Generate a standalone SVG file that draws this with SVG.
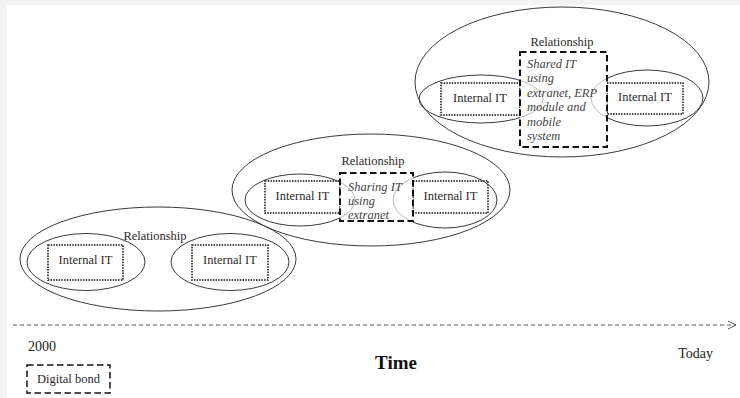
<svg xmlns="http://www.w3.org/2000/svg" width="740" height="398" viewBox="0 0 740 398">
  <style>
    .txt { font-family: "Liberation Serif", "Times New Roman", serif; font-size: 12.5px; fill: #2a2a2a; }
    .it { font-family: "Liberation Serif", "Times New Roman", serif; font-size: 12.5px; font-style: italic; fill: #444; }
    .axis { font-family: "Liberation Serif", "Times New Roman", serif; font-size: 14px; fill: #222; }
    .outer { fill: none; stroke: #3a3a3a; stroke-width: 1; }
    .inner { fill: none; stroke: #3a3a3a; stroke-width: 1; }
    .dotted { fill: none; stroke: #111; stroke-width: 1.5; stroke-dasharray: 1.5 1.2; }
    .dashed { fill: #fff; fill-opacity: 0.65; stroke: #111; stroke-width: 2; stroke-dasharray: 6.5 3.5; }
    .timeline { fill: none; stroke: #555; stroke-width: 1; stroke-dasharray: 4 3; }
  </style>
  <defs>
    <marker id="chevron" viewBox="0 0 10 10" refX="9" refY="5" markerWidth="10" markerHeight="10" markerUnits="userSpaceOnUse" orient="auto">
      <path d="M1,1 L9,5 L1,9" fill="none" stroke="#555" stroke-width="1"/>
    </marker>
  </defs>

  <!-- page background with thin grey frame at top and left -->
  <rect x="0" y="0" width="740" height="398" fill="#f3f3f3"/>
  <rect x="7" y="5" width="733" height="393" fill="#ffffff"/>

  <!-- stage 1 (2000): two firms with internal IT -->
  <g id="stage1">
    <ellipse class="outer" cx="158" cy="259" rx="138" ry="52"/>
    <ellipse class="inner" cx="86" cy="262" rx="59" ry="28.5"/>
    <ellipse class="inner" cx="230" cy="262" rx="59" ry="28.5"/>
    <text class="txt" x="155" y="240" text-anchor="middle">Relationship</text>
  </g>
  <g id="s1-it-left">
    <rect class="dotted" x="48" y="245" width="75" height="35"/>
    <text class="txt" x="85.5" y="264" text-anchor="middle">Internal IT</text>
  </g>
  <g id="s1-it-right">
    <rect class="dotted" x="192" y="245" width="76" height="35"/>
    <text class="txt" x="230" y="264" text-anchor="middle">Internal IT</text>
  </g>

  <!-- stage 2: IT shared over an extranet -->
  <g id="stage2">
    <ellipse class="outer" cx="371" cy="190" rx="139" ry="56"/>
    <ellipse class="inner" cx="300" cy="200" rx="55" ry="26"/>
    <ellipse class="inner" cx="445" cy="200" rx="52" ry="28"/>
    <text class="txt" x="373" y="165" text-anchor="middle">Relationship</text>
  </g>
  <g id="s2-it-left">
    <rect class="dotted" x="265" y="181" width="75" height="32"/>
    <text class="txt" x="302.5" y="200" text-anchor="middle">Internal IT</text>
  </g>
  <g id="s2-it-right">
    <rect class="dotted" x="413" y="181" width="75" height="32"/>
    <text class="txt" x="450.5" y="200" text-anchor="middle">Internal IT</text>
  </g>
  <g id="s2-bond">
    <rect class="dashed" x="340" y="173" width="73" height="48"/>
    <text class="it" x="348">
      <tspan x="348" y="191">Sharing IT</tspan>
      <tspan x="348" y="205">using</tspan>
      <tspan x="348" y="219">extranet</tspan>
    </text>
  </g>

  <!-- stage 3 (today): extranet, ERP and mobile -->
  <g id="stage3">
    <ellipse class="outer" cx="562" cy="82" rx="147" ry="75"/>
    <ellipse class="inner" cx="481" cy="99" rx="62" ry="24"/>
    <ellipse class="inner" cx="647" cy="98" rx="56" ry="28"/>
    <text class="txt" x="562" y="46" text-anchor="middle">Relationship</text>
  </g>
  <g id="s3-it-left">
    <rect class="dotted" x="441" y="83" width="79" height="32"/>
    <text class="txt" x="480" y="102" text-anchor="middle">Internal IT</text>
  </g>
  <g id="s3-it-right">
    <rect class="dotted" x="607" y="83" width="76" height="31"/>
    <text class="txt" x="645" y="101" text-anchor="middle">Internal IT</text>
  </g>
  <g id="s3-bond">
    <rect class="dashed" x="520" y="52" width="87" height="95"/>
    <text class="it">
      <tspan x="527" y="68">Shared IT</tspan>
      <tspan x="527" y="82">using</tspan>
      <tspan x="527" y="97">extranet, ERP</tspan>
      <tspan x="527" y="111">module and</tspan>
      <tspan x="527" y="126">mobile</tspan>
      <tspan x="527" y="140">system</tspan>
    </text>
  </g>

  <!-- time axis -->
  <g id="connectors">
    <line class="timeline" x1="13" y1="325" x2="736" y2="325" marker-end="url(#chevron)"/>
  </g>
  <g id="axis-labels">
    <text class="axis" x="28" y="351">2000</text>
    <text class="axis" x="713" y="358" text-anchor="end">Today</text>
    <text x="396" y="369" text-anchor="middle" font-family="Liberation Serif, Times New Roman, serif" font-size="19" font-weight="bold" fill="#111">Time</text>
  </g>

  <!-- legend -->
  <g id="legend">
    <rect fill="none" stroke="#111" stroke-width="1.5" stroke-dasharray="6.5 3.5" x="27" y="365" width="83" height="28"/>
    <text class="txt" x="68.5" y="383" text-anchor="middle" font-size="12">Digital bond</text>
  </g>
</svg>
